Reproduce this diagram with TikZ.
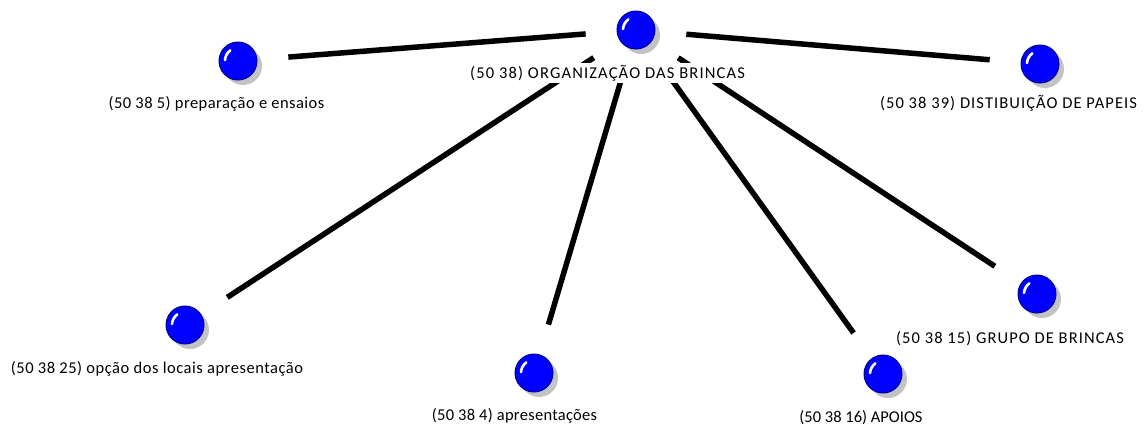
\documentclass[tikz,border=0pt]{standalone}
\usepackage{fontspec}
\setmainfont{Carlito}
\usetikzlibrary{shadows,backgrounds}
\definecolor{ballblue}{RGB}{0,0,255}
\definecolor{balledge}{RGB}{0,0,140}
\definecolor{shadowgray}{RGB}{195,195,195}
\newcommand\lsp[2]{{\addfontfeature{LetterSpace=#1}#2}}
\begin{document}
\begin{tikzpicture}[x=1pt,y=-1pt,
 ball/.style={circle, minimum size=38pt, inner sep=0pt, fill=ballblue, draw=balledge, line width=1pt,
   drop shadow={shadow xshift=5pt, shadow yshift=-5pt, fill=shadowgray, opacity=1},
   path picture={\draw[white,line width=2.6pt,line cap=round] ([shift={(-13pt,1pt)}]path picture bounding box.center) arc[start angle=176,end angle=126,radius=13pt];}},
 lbl/.style={anchor=base, inner sep=2pt, fill=white, font=\fontsize{16.5}{18}\selectfont, text=black},
 link/.style={line width=5.5pt, shorten <=31pt, shorten >=31pt}]
\useasboundingbox (0,0) rectangle (1146,429);
\node[ball] (c) at (636,30) {};
\node[ball] (p) at (238,61) {};
\node[ball] (o) at (185,325) {};
\node[ball] (a) at (534,373) {};
\node[ball] (ap) at (883,374) {};
\node[ball] (g) at (1037,294) {};
\node[ball] (d) at (1040,64) {};
\node[lbl] (lc) at (607.5,78) {\lsp{7}{(50 38) ORGANIZAÇÃO DAS BRINCAS}};
\node[lbl] (lp) at (216.5,108) {\lsp{2.8}{(50 38 5) preparação e ensaios}};
\node[lbl] (ld) at (1008.5,108) {\lsp{6.5}{(50 38 39) DISTIBUIÇÃO DE PAPEIS}};
\node[lbl] (lo) at (157,373) {\lsp{3.2}{(50 38 25) opção dos locais apresentação}};
\node[lbl] (la) at (514.5,420) {\lsp{1.7}{(50 38 4) apresentações}};
\node[lbl] (lap) at (861,422) {(50 38 16) APOIOS};
\node[lbl] (lg) at (1010,343) {\lsp{6.5}{(50 38 15) GRUPO DE BRINCAS}};
\begin{scope}[on background layer]
\foreach \t in {p,o,a,ap,g,d} \draw[link] (c) -- (\t);
\end{scope}
\end{tikzpicture}
\end{document}
